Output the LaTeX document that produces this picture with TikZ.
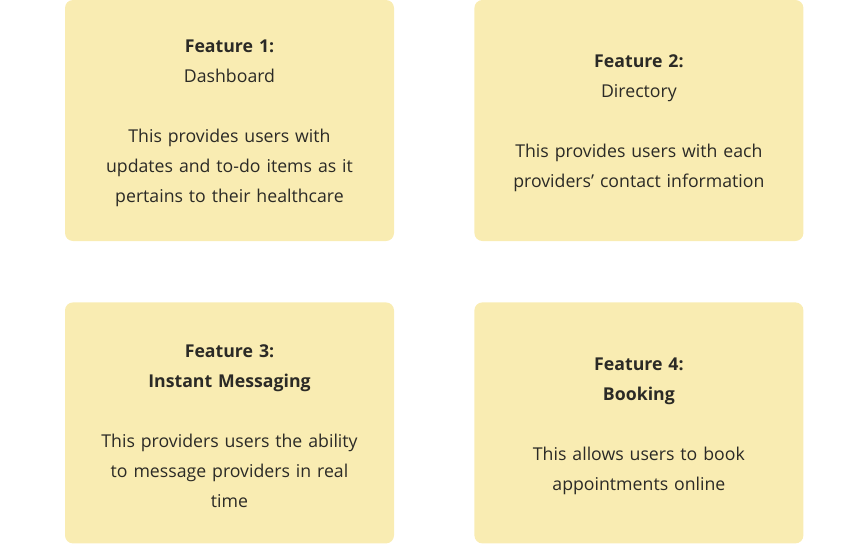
\documentclass[tikz,border=0pt]{standalone}
\usepackage{fontspec}
\setmainfont{Open Sans}
\usetikzlibrary{positioning}
\definecolor{cardyellow}{HTML}{F9ECB2}
\definecolor{cardtext}{HTML}{2B2A26}
\newcommand{\cardtop}{\rule{0pt}{19pt}}

\begin{document}
\begin{tikzpicture}[align=center,node distance=80pt]
\tikzstyle{card}=[rectangle, rounded corners=8pt, fill=cardyellow, text=cardtext,
  minimum width=329pt, minimum height=241pt, text width=310pt, inner sep=0pt,
  font=\fontsize{17.7}{30}\selectfont]

\useasboundingbox (0,0) rectangle (868pt,-544pt);

\node[card] (f1) at (229.5pt,-120.5pt) {\cardtop\textbf{Feature 1:}\\ Dashboard\\[30pt]
  This provides users with\\ updates and to-do items as it\\ pertains to their healthcare};
\node[card] (f2) [right = 80pt of f1] {\cardtop\textbf{Feature 2:}\\ Directory\\[30pt]
  This provides users with each\\ providers' contact information};
\node[card] (f3) [below = 61pt of f1] {\cardtop\textbf{Feature 3:}\\ \textbf{Instant Messaging}\\[30pt]
  This providers users the ability\\ to message providers in real\\ time};
\node[card] (f4) [right = 80pt of f3] {\cardtop\textbf{Feature 4:}\\ \textbf{Booking}\\[30pt]
  This allows users to book\\ appointments online};
\end{tikzpicture}
\end{document}
